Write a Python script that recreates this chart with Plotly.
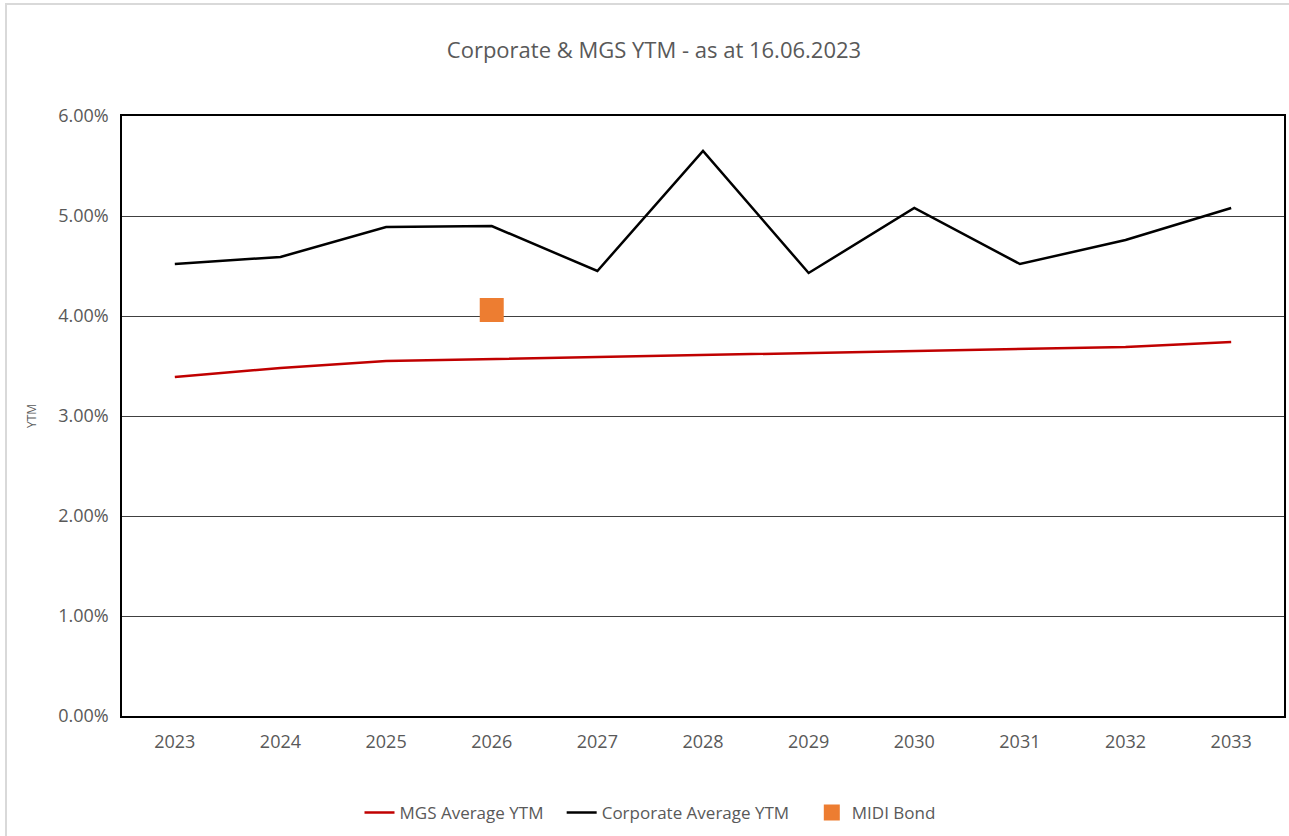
import plotly.graph_objects as go

years = ["2023", "2024", "2025", "2026", "2027", "2028", "2029", "2030", "2031", "2032", "2033"]
mgs_ytm = [3.39, 3.48, 3.55, 3.57, 3.59, 3.61, 3.63, 3.65, 3.67, 3.69, 3.74]
corp_ytm = [4.52, 4.59, 4.89, 4.90, 4.45, 5.65, 4.43, 5.08, 4.52, 4.76, 5.08]
midi_year = ["2026"]
midi_ytm = [4.06]
y_ticks = [0, 1, 2, 3, 4, 5, 6]
y_labels = ["0.00%", "1.00%", "2.00%", "3.00%", "4.00%", "5.00%", "6.00%"]

FONT = "Open Sans"
GREY = "#595959"

fig = go.Figure()
fig.add_trace(go.Scatter(x=years, y=mgs_ytm, mode="lines", name="MGS Average YTM   ",
                         line=dict(color="#C00000", width=2.5)))
fig.add_trace(go.Scatter(x=years, y=corp_ytm, mode="lines", name="Corporate Average YTM    ",
                         line=dict(color="#000000", width=2.5)))
fig.add_trace(go.Scatter(x=midi_year, y=midi_ytm, mode="markers", name="MIDI Bond",
                         marker=dict(color="#ED7D31", symbol="square", size=24,
                                     line=dict(width=0))))

L, R, T, B = 122, 5, 116, 120
pw = 1289 - L - R
ph = 836 - T - B

fig.update_layout(
    width=1289, height=836,
    margin=dict(l=L, r=R, t=T, b=B, autoexpand=False),
    paper_bgcolor="white", plot_bgcolor="white",
    title=dict(text="Corporate & MGS YTM - as at 16.06.2023", x=654 / 1289, xanchor="center",
               xref="container", yref="container",
               y=1 - 50 / 836, yanchor="middle",
               font=dict(family=FONT, size=22, color=GREY)),
    font=dict(family=FONT, color=GREY),
    showlegend=True,
    legend=dict(orientation="h", xref="container", x=650 / 1289, xanchor="center",
                yref="container", y=1 - 813 / 836, yanchor="middle",
                font=dict(family=FONT, size=17, color=GREY),
                traceorder="normal"),
    xaxis=dict(type="category", range=[-0.5, 10.5], showgrid=False, showline=True,
               linecolor="black", linewidth=1.5, automargin=False,
               mirror=True, ticks="", tickfont=dict(family=FONT, size=18, color=GREY),
               ticklabelstandoff=9),
    yaxis=dict(range=[0, 6], tickvals=y_ticks, ticktext=y_labels, showgrid=True,
               gridcolor="#404040", gridwidth=1, showline=True, linecolor="black",
               linewidth=1.5, mirror=True, zeroline=False, ticks="", automargin=False,
               tickfont=dict(family=FONT, size=18, color=GREY), ticklabelstandoff=8,
               title=dict(text="YTM", font=dict(family=FONT, size=12, color=GREY), standoff=19)),
)

# outer chart frame (light grey), left/top edges visible
fig.add_shape(type="rect", xref="paper", yref="paper",
              x0=(6 - L) / pw, x1=(1300 - L) / pw,
              y0=-(850 - 716) / ph, y1=1 + (T - 4) / ph,
              line=dict(color="#D9D9D9", width=2), fillcolor="rgba(0,0,0,0)", layer="below")

fig.write_html("out.html", config={"displayModeBar": False},
               post_script="document.body.style.margin='0';document.body.style.overflow='hidden';")
